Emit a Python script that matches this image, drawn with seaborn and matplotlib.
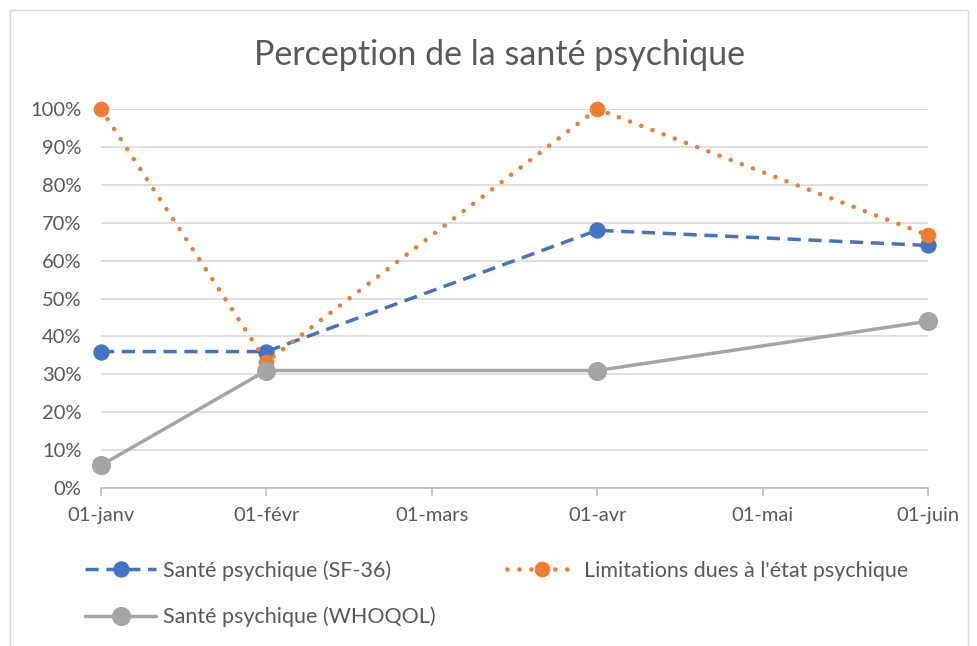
import numpy as np
import pandas as pd
import matplotlib
matplotlib.use("Agg")
import matplotlib.pyplot as plt
import seaborn as sns
from matplotlib.patches import Rectangle
from matplotlib.ticker import PercentFormatter

# Données
mois = ["01-janv", "01-févr", "01-mars", "01-avr", "01-mai", "01-juin"]
mois_points = [0, 1, 3, 5]  # janv, févr, avr, juin
sf36 = [0.36, 0.36, 0.68, 0.64]
limitations = [1.00, 0.333, 1.00, 0.667]
whoqol = [0.06, 0.31, 0.31, 0.44]

noms = ["Santé psychique (SF-36)", "Limitations dues à l'état psychique", "Santé psychique (WHOQOL)"]
couleurs = ["#4472C4", "#ED7D31", "#A5A5A5"]

sns.set_theme(style="white")
plt.rcParams["font.family"] = ["Lato", "DejaVu Sans"]
texte = "#595959"

fig = plt.figure(figsize=(9.78, 6.46), dpi=100)
ax = fig.add_axes([101 / 978, 1 - 488 / 646, (928 - 101) / 978, (488 - 109) / 646])

df = pd.DataFrame({"x": mois_points * 3,
                   "y": sf36 + limitations + whoqol,
                   "serie": [noms[0]] * 4 + [noms[1]] * 4 + [noms[2]] * 4})

styles = [
    dict(linestyle=(0, (3.8, 2.2)), lw=2.5, marker="o", markersize=11),
    dict(linestyle=(0, (0.01, 2.6)), lw=3.3, marker="o", markersize=10.5,
         dash_capstyle="round"),
    dict(linestyle="-", lw=2.5, marker="o", markersize=13),
]
for nom, c, st in zip(noms, couleurs, styles):
    sns.lineplot(data=df[df["serie"] == nom], x="x", y="y", color=c,
                 markeredgecolor=c, ax=ax, label=nom, clip_on=False, **st)

ax.set_xlim(0, 5)
ax.set_ylim(0, 1)
ax.set_yticks(np.arange(0, 1.01, 0.1))
ax.yaxis.set_major_formatter(PercentFormatter(1.0, decimals=0))
ax.set_xticks(range(len(mois)))
ax.set_xticklabels(mois)
ax.set_xlabel("")
ax.set_ylabel("")
ax.grid(axis="y", color="#D9D9D9", lw=1.2)
ax.set_axisbelow(True)
for s in ["top", "right", "left"]:
    ax.spines[s].set_visible(False)
ax.spines["bottom"].set_color("#BFBFBF")
ax.spines["bottom"].set_linewidth(1.2)
ax.tick_params(axis="x", bottom=True, length=6, width=1.2, color="#BFBFBF",
               labelsize=14.5, labelcolor=texte, pad=8)
ax.tick_params(axis="y", left=False, labelsize=14.5, labelcolor=texte, pad=8)

ax.get_legend().remove()
h, l = ax.get_legend_handles_labels()
order = [0, 2, 1]
fig.legend([h[i] for i in order], [l[i] for i in order], ncol=2,
           loc="upper left", bbox_to_anchor=(66 / 978, 1 - 541 / 646),
           frameon=False, fontsize=15.5, labelcolor=texte, handlelength=3.3,
           handletextpad=0.3, columnspacing=3.3, labelspacing=1.2)

fig.text(0.511, 1 - 55 / 646, "Perception de la santé psychique", ha="center",
         va="center", fontsize=24.5, color=texte)

fig.patches.append(Rectangle((10 / 978, -0.01), 958 / 978, 1 - 10 / 646 + 0.01,
                             transform=fig.transFigure, fill=False,
                             edgecolor="#D9D9D9", lw=1))

fig.savefig("out.png", dpi=100)
